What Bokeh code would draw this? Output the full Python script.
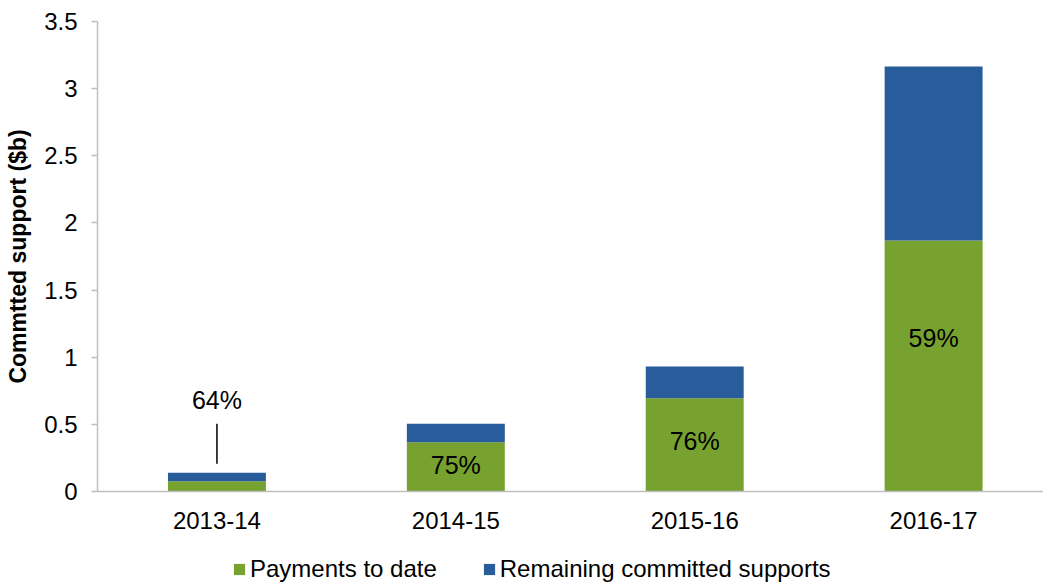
from bokeh.plotting import figure
from bokeh.layouts import column
from bokeh.models import ColumnDataSource, Range1d, FixedTicker, Legend, LegendItem
from bokeh.core.properties import value
from bokeh.embed import file_html
from bokeh.resources import INLINE

categories = ["2013-14", "2014-15", "2015-16", "2016-17"]
payments = [0.077, 0.367, 0.695, 1.869]
remaining = [0.062, 0.137, 0.236, 1.296]
series_names = ["Payments to date", "Remaining committed supports"]
pct_labels = ["64%", "75%", "76%", "59%"]
pct_label_y = [0.685, 0.201, 0.374, 1.145]
leader_y0 = [0.206]
leader_y1 = [0.504]
y_ticks = [0, 0.5, 1, 1.5, 2, 2.5, 3, 3.5]
y_tick_labels = ["0", "0.5", "1", "1.5", "2", "2.5", "3", "3.5"]

FONT = "Liberation Sans"
GREEN = "#77A22F"
BLUE = "#285C9B"
AXIS = "#BFBFBF"

xs = list(range(len(categories)))
src = ColumnDataSource(dict(x=xs, payments=payments, remaining=remaining,
                            lab=pct_labels, laby=pct_label_y))

p = figure(width=1043, height=545, output_backend="svg", toolbar_location=None,
           x_range=Range1d(-0.5, 3.46), y_range=Range1d(0, 3.5),
           min_border_left=97, min_border_right=0, min_border_top=21,
           min_border_bottom=54)
p.outline_line_color = None
p.xgrid.visible = False
p.ygrid.visible = False

rs = p.vbar_stack(["payments", "remaining"], x="x", width=0.41, source=src,
                  color=[GREEN, BLUE], line_color=None)

p.text(x="x", y="laby", text="lab", source=src, text_align="center",
       text_baseline="middle", text_font=value(FONT), text_font_size="25px",
       text_color="black")
p.segment(x0=[xs[0]], y0=leader_y0, x1=[xs[0]], y1=leader_y1,
          line_color="black", line_width=1.5)

# axes
p.xaxis.ticker = FixedTicker(ticks=xs)
p.xaxis.major_label_overrides = {i: c for i, c in zip(xs, categories)}
p.xaxis.major_tick_line_color = None
p.xaxis.minor_tick_line_color = None
p.xaxis.axis_line_color = AXIS
p.xaxis.axis_line_width = 1.5
p.xaxis.major_label_text_font = FONT
p.xaxis.major_label_text_font_size = "24px"
p.xaxis.major_label_text_color = "black"
p.xaxis.major_label_standoff = 14

p.yaxis.ticker = FixedTicker(ticks=y_ticks)
p.yaxis.major_label_overrides = {t: l for t, l in zip(y_ticks, y_tick_labels)}
p.yaxis.minor_tick_line_color = None
p.yaxis.major_tick_in = 0
p.yaxis.major_tick_out = 6
p.yaxis.major_tick_line_color = AXIS
p.yaxis.major_tick_line_width = 1.5
p.yaxis.axis_line_color = AXIS
p.yaxis.axis_line_width = 1.5
p.yaxis.major_label_text_font = FONT
p.yaxis.major_label_text_font_size = "24px"
p.yaxis.major_label_text_color = "black"
p.yaxis.major_label_standoff = 14
p.yaxis.axis_label = "Commtted support ($b)"
p.yaxis.axis_label_text_font = FONT
p.yaxis.axis_label_text_font_size = "23px"
p.yaxis.axis_label_text_font_style = "bold"
p.yaxis.axis_label_text_color = "black"
p.yaxis.axis_label_standoff = 10

# legend strip below the chart (swatch renderers are zero-height, so nothing shows)
lg = figure(width=1043, height=38, output_backend="svg", toolbar_location=None,
            x_range=Range1d(0, 1), y_range=Range1d(0, 1), min_border=0)
lg.axis.visible = False
lg.grid.visible = False
lg.outline_line_color = None
lg.border_fill_color = "white"
lg.background_fill_color = "white"
swatches = [lg.vbar(x=[0.5], top=[0], bottom=[0], width=0.1, color=c,
                    line_color=None) for c in (GREEN, BLUE)]
legend = Legend(items=[LegendItem(label=n, renderers=[r])
                       for n, r in zip(series_names, swatches)],
                orientation="horizontal", location=(135, 0),
                padding=0, margin=0, spacing=45, label_standoff=4,
                glyph_width=14, glyph_height=14,
                label_text_font=FONT, label_text_font_size="24px",
                label_text_color="black", border_line_color=None,
                background_fill_alpha=0)
lg.add_layout(legend, "center")

open("out.html", "w").write(file_html(column(p, lg, spacing=0), INLINE))
